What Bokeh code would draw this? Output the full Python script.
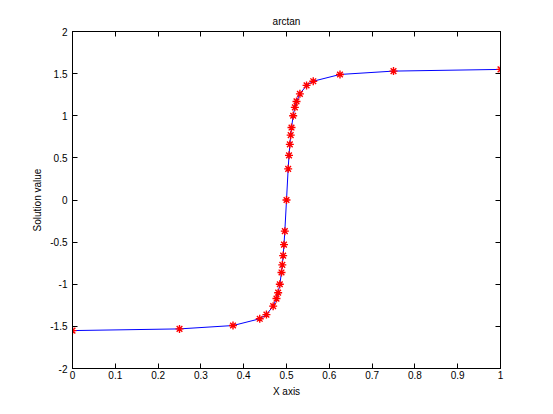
from bokeh.plotting import figure
from bokeh.models import Range1d, LinearAxis, FixedTicker, CustomJSTickFormatter
from bokeh.embed import file_html
from bokeh.resources import INLINE

# mesh nodes (x) and solution values
x_nodes = [0.0, 0.25, 0.375, 0.4375, 0.4531, 0.4688, 0.4766, 0.4805, 0.4844,
           0.4883, 0.4902, 0.4922, 0.4941, 0.4961, 0.5, 0.5039, 0.5059, 0.5078,
           0.5098, 0.5117, 0.5156, 0.5195, 0.5234, 0.5313, 0.5469, 0.5625,
           0.625, 0.75, 1.0]
y_vals = [-1.55, -1.53, -1.49, -1.41, -1.36, -1.26, -1.17, -1.10, -1.00,
          -0.86, -0.77, -0.66, -0.53, -0.37, 0.0, 0.37, 0.53, 0.66,
          0.77, 0.86, 1.00, 1.10, 1.17, 1.26, 1.36, 1.41,
          1.49, 1.53, 1.55]

x_ticks = [0, 0.1, 0.2, 0.3, 0.4, 0.5, 0.6, 0.7, 0.8, 0.9, 1.0]
y_ticks = [-2, -1.5, -1, -0.5, 0, 0.5, 1, 1.5, 2]

FONT = "Liberation Sans"

p = figure(width=545, height=406, x_range=Range1d(0, 1), y_range=Range1d(-2, 2),
           output_backend="svg", toolbar_location=None,
           min_border_left=72, min_border_right=45, min_border_top=31, min_border_bottom=38,
           title="arctan", x_axis_label="X axis", y_axis_label="Solution value")
p.grid.visible = False
p.outline_line_color = "black"
p.background_fill_color = "white"
p.border_fill_color = "white"

p.title.align = "center"
p.title.text_font = FONT
p.title.text_font_size = "10px"
p.title.text_font_style = "normal"
p.title.text_color = "black"

fmt = CustomJSTickFormatter(code="return String(Math.round(tick*10)/10);")
blank = CustomJSTickFormatter(code="return '';")

def style(ax, ticks, show_labels=True):
    ax.ticker = FixedTicker(ticks=ticks)
    ax.formatter = fmt if show_labels else blank
    ax.major_tick_in = 5
    ax.major_tick_out = 0
    ax.minor_tick_line_color = None
    ax.axis_line_color = "black"
    ax.major_tick_line_color = "black"
    ax.major_label_text_font = FONT
    ax.major_label_text_font_size = "10px"
    ax.major_label_text_color = "black"
    ax.axis_label_text_font = FONT
    ax.axis_label_text_font_size = "10px"
    ax.axis_label_text_font_style = "normal"
    ax.axis_label_text_color = "black"

style(p.xaxis[0], x_ticks)
style(p.yaxis[0], y_ticks)
p.xaxis[0].major_label_standoff = 2
p.xaxis[0].axis_label_standoff = 4
p.yaxis[0].major_label_standoff = 5
p.yaxis[0].axis_label_standoff = 4

top = LinearAxis()
style(top, x_ticks, show_labels=False)
top.major_label_standoff = 0
p.add_layout(top, "above")
right = LinearAxis()
style(right, y_ticks, show_labels=False)
right.major_label_standoff = 0
p.add_layout(right, "right")

p.line(x_nodes, y_vals, line_color="#0000ff", line_width=1)
p.scatter(x_nodes, y_vals, marker="asterisk", size=8, line_color="#ff0000", line_width=1.4)

open("out.html", "w").write(file_html(p, INLINE))
